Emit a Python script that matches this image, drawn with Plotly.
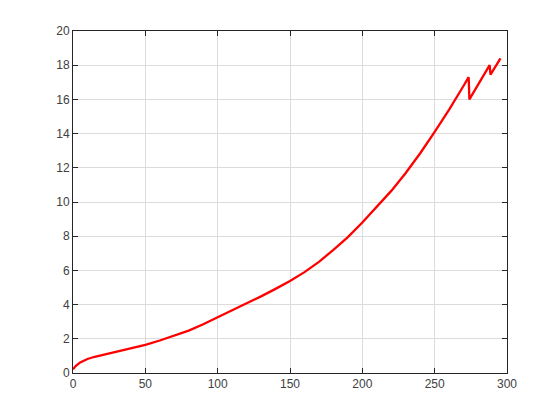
import plotly.graph_objects as go

x_vals = [0, 2, 5, 10, 15, 20, 30, 40, 50, 60, 70, 80, 90, 100, 110, 120, 130,
          140, 150, 160, 170, 180, 190, 200, 210, 220, 230, 240, 250, 260, 270,
          273.5, 274, 280, 288, 288.6, 295.5]
y_vals = [0.22, 0.42, 0.62, 0.82, 0.95, 1.05, 1.25, 1.45, 1.65, 1.9, 2.17, 2.48,
          2.85, 3.25, 3.65, 4.06, 4.48, 4.92, 5.38, 5.9, 6.5, 7.2, 7.95, 8.8, 9.7,
          10.65, 11.7, 12.85, 14.1, 15.4, 16.8, 17.3, 16.0, 16.85, 18.0, 17.45, 18.4]

x_ticks = [0, 50, 100, 150, 200, 250, 300]
y_ticks = [0, 2, 4, 6, 8, 10, 12, 14, 16, 18, 20]

fig = go.Figure()
fig.add_trace(go.Scatter(x=x_vals, y=y_vals, mode="lines",
                         line=dict(color="#ff0000", width=2.3),
                         showlegend=False))

axis_common = dict(showgrid=True, gridcolor="#dcdcdc", gridwidth=1,
                   showline=True, linecolor="#262626", linewidth=1, mirror="ticks",
                   ticks="inside", ticklen=5, tickcolor="#262626", zeroline=False,
                   tickfont=dict(family="Liberation Sans, Arial, sans-serif", size=12, color="#404040"))

fig.update_layout(
    width=560, height=420,
    margin=dict(l=73, r=53, t=31, b=47),
    paper_bgcolor="white", plot_bgcolor="white",
    xaxis=dict(range=[0, 300], tickvals=x_ticks, **axis_common),
    yaxis=dict(range=[0, 20], tickvals=y_ticks, **axis_common),
)

fig.write_html("out.html", config={"displayModeBar": False},
               post_script="document.body.style.margin='0';")
